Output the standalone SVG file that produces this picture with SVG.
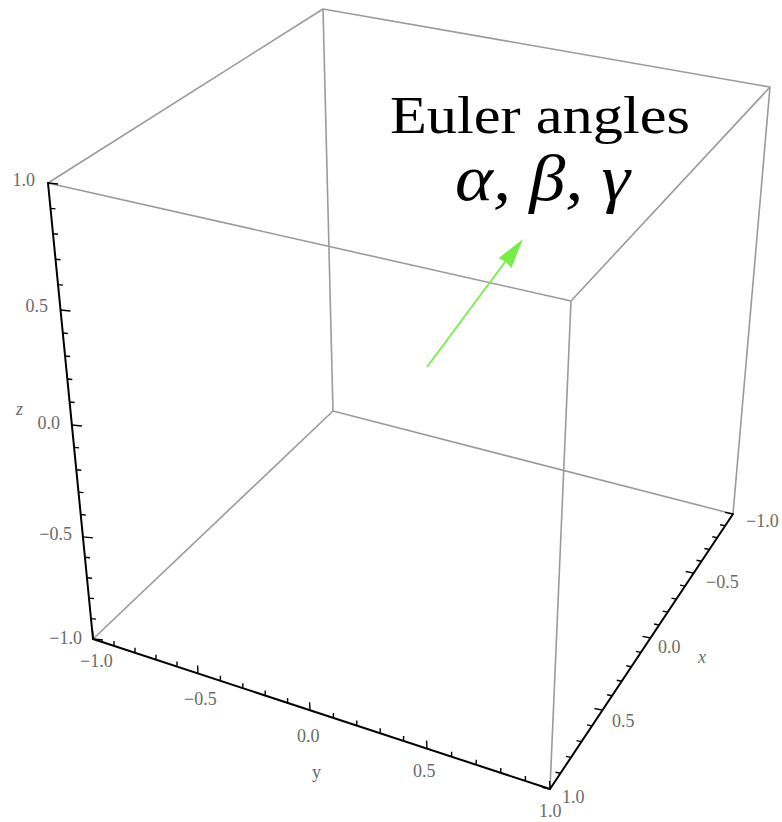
<svg xmlns="http://www.w3.org/2000/svg" width="782" height="822" viewBox="0 0 782 822">
<style>
.edge{fill:none;stroke:#9a9a9a;stroke-width:1.6;stroke-linecap:round}
.axis{fill:none;stroke:#000;stroke-width:2;stroke-linecap:round}
.tick{fill:none;stroke:#000;stroke-width:1.4}
.lbl{font-family:"Liberation Serif","Times New Roman",serif;font-size:18px;fill:#6a6a6a}
.ital{font-style:italic}
.title{font-family:"Liberation Serif","Times New Roman",serif;fill:#000}
</style>
<rect width="782" height="822" fill="#fff"/>
<g id="box">
<path class="edge" d="M323 9 L48 183 M323 9 L770 87 M323 9 L333 411 M48 183 L571 301 M770 87 L571 301 M571 301 L550 789 M770 87 L733 514 M333 411 L93 639 M333 411 L733 514"/>
</g>
<g id="z-axis">
<path class="axis" d="M48 183 L93 639"/>
<path class="tick" d="M48 183 l10 1 M50.5 208.4 l5 0.5 M53 233.8 l5 0.5 M55.5 259.2 l5 0.5 M58 284.6 l5 0.5 M60.5 310 l10 1 M62.8 333 l5 0.5 M65.1 356 l5 0.5 M67.3 379 l5 0.5 M69.6 402 l5 0.5 M71.9 425 l10 1 M74.1 447.4 l5 0.5 M76.3 469.7 l5 0.5 M78.5 492.1 l5 0.5 M80.7 514.5 l5 0.5 M82.9 536.9 l10 1 M84.9 557.3 l5 0.5 M87 577.7 l5 0.5 M89 598.1 l5 0.5 M91 618.6 l5 0.5 M93 639 l10 1"/>
<text class="lbl" x="35" y="186" text-anchor="end">1.0</text>
<text class="lbl" x="48" y="312" text-anchor="end">0.5</text>
<text class="lbl" x="60" y="429" text-anchor="end">0.0</text>
<text class="lbl" x="72" y="540" text-anchor="end">−0.5</text>
<text class="lbl" x="82" y="644" text-anchor="end">−1.0</text>
<text class="lbl ital" x="16" y="415">z</text>
</g>
<g id="y-axis">
<path class="axis" d="M93 639 L550 789"/>
<path class="tick" d="M93 639 l-0.4 -8 M114 645.9 l0 -5 M135 652.8 l0 -5 M156 659.7 l0 -5 M177 666.6 l0 -5 M198 673.5 l-0.4 -8 M220.4 680.8 l0 -5 M242.8 688.2 l0 -5 M265.2 695.5 l0 -5 M287.6 702.9 l0 -5 M310 710.2 l-0.4 -8 M333.4 717.9 l0 -5 M356.8 725.6 l0 -5 M380.2 733.3 l0 -5 M403.6 741 l0 -5 M427 748.6 l-0.4 -8 M451.6 756.7 l0 -5 M476.2 764.8 l0 -5 M500.8 772.9 l0 -5 M525.4 780.9 l0 -5 M550 789 l-0.4 -8"/>
<text class="lbl" x="80" y="667">−1.0</text>
<text class="lbl" x="184" y="705">−0.5</text>
<text class="lbl" x="297" y="742">0.0</text>
<text class="lbl" x="312" y="778">y</text>
<text class="lbl" x="413" y="777">0.5</text>
<text class="lbl" x="539" y="817">1.0</text>
</g>
<g id="x-axis">
<path class="axis" d="M550 789 L733 514"/>
<path class="tick" d="M550 789 l-8 -1.6 M560.5 773.2 l-5 -1 M571 757.4 l-5 -1 M581.5 741.6 l-5 -1 M592 725.9 l-5 -1 M602.5 710.1 l-8 -1.6 M612.1 695.7 l-5 -1 M621.7 681.3 l-5 -1 M631.3 666.8 l-5 -1 M640.9 652.4 l-5 -1 M650.5 638 l-8 -1.6 M659.1 625 l-5 -1 M667.7 612.1 l-5 -1 M676.4 599.1 l-5 -1 M685 586.1 l-5 -1 M693.7 573.1 l-8 -1.6 M701.5 561.3 l-5 -1 M709.4 549.5 l-5 -1 M717.3 537.7 l-5 -1 M725.1 525.8 l-5 -1 M733 514 l-8 -1.6"/>
<text class="lbl" x="562" y="803">1.0</text>
<text class="lbl" x="612" y="727">0.5</text>
<text class="lbl" x="658" y="653">0.0</text>
<text class="lbl ital" x="698" y="663">x</text>
<text class="lbl" x="706" y="588">−0.5</text>
<text class="lbl" x="746" y="527">−1.0</text>
</g>
<g id="arrow">
<path d="M427 367 L508 258" fill="none" stroke="#77ee44" stroke-width="1.8"/>
<path d="M523 239 L511.4 268 L506 262 L498.6 258.2 Z" fill="#77ee44"/>
</g>
<g id="title">
<text class="title" x="390" y="133" font-size="52" textLength="300" lengthAdjust="spacingAndGlyphs">Euler angles</text>
<text class="title" x="455" y="200" font-size="66" font-style="italic" textLength="175" lengthAdjust="spacingAndGlyphs">α, β, γ</text>
</g>
</svg>
